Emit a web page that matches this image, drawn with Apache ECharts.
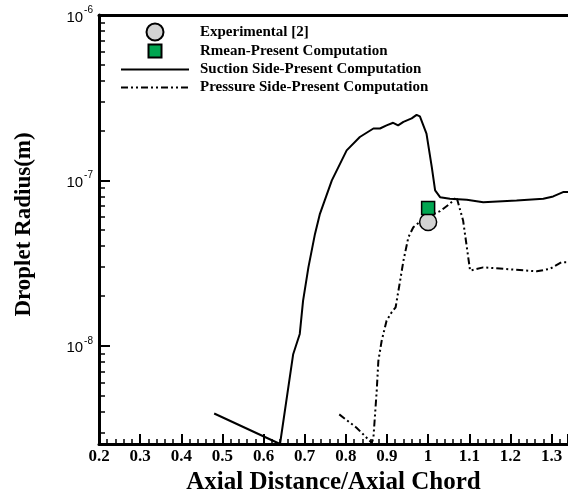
<!DOCTYPE html>
<html>
<head>
<meta charset="utf-8">
<script src="https://cdn.jsdelivr.net/npm/echarts@6/dist/echarts.min.js"></script>
<style>html,body{margin:0;padding:0;background:#fff;}#c{width:568px;height:490px;}</style>
</head>
<body>
<div id="c"></div>
<script>
// ---- data ----
const suctionX = [0.48, 0.64, 0.672, 0.688, 0.696, 0.709, 0.725, 0.737, 0.766, 0.802, 0.834, 0.867, 0.883, 0.899, 0.915, 0.927, 0.940, 0.960, 0.972, 0.980, 0.996, 1.009, 1.017, 1.029, 1.053, 1.094, 1.134, 1.215, 1.280, 1.304, 1.328, 1.340];
const suctionY = [3.9e-9, 2.55e-9, 8.9e-9, 1.18e-8, 1.87e-8, 2.98e-8, 4.75e-8, 6.28e-8, 1.0e-7, 1.52e-7, 1.83e-7, 2.06e-7, 2.06e-7, 2.15e-7, 2.23e-7, 2.15e-7, 2.26e-7, 2.37e-7, 2.49e-7, 2.44e-7, 1.92e-7, 1.2e-7, 8.7e-8, 7.92e-8, 7.74e-8, 7.64e-8, 7.39e-8, 7.56e-8, 7.74e-8, 8.0e-8, 8.5e-8, 8.5e-8];

const pressureX = [0.784, 0.826, 0.863, 0.867, 0.875, 0.879, 0.887, 0.899, 0.911, 0.921, 0.932, 0.940, 0.952, 0.964, 0.984, 1.004, 1.029, 1.053, 1.069, 1.085, 1.102, 1.134, 1.183, 1.264, 1.296, 1.324, 1.340];
const pressureY = [3.85e-9, 3.2e-9, 2.59e-9, 2.78e-9, 5.33e-9, 8.1e-9, 1.07e-8, 1.42e-8, 1.59e-8, 1.71e-8, 2.48e-8, 3.27e-8, 4.53e-8, 5.21e-8, 5.73e-8, 6.14e-8, 6.52e-8, 7.23e-8, 7.93e-8, 5.73e-8, 2.85e-8, 2.98e-8, 2.92e-8, 2.82e-8, 2.92e-8, 3.2e-8, 3.2e-8];

const experimentalX = [1.0];
const experimentalY = [5.6e-8];
const rmeanX = [1.0];
const rmeanY = [6.8e-8];

const seriesNames = ['Experimental [2]', 'Rmean-Present Computation', 'Suction Side-Present Computation', 'Pressure Side-Present Computation'];
const xTitle = 'Axial Distance/Axial Chord';
const yTitle = 'Droplet Radius(m)';
const yMajorTicks = [1e-8, 1e-7, 1e-6];
const yMinorMultipliers = [2, 3, 4, 5, 6, 7, 8, 9];
const yMin = 2.55e-9, yMax = 1e-6;
const xMin = 0.2, xMax = 1.34, xStep = 0.1;

const yMinorTicks = [];
[1e-9, 1e-8, 1e-7].forEach(d => yMinorMultipliers.forEach(m => { const v = m * d; if (v >= yMin && v <= yMax) yMinorTicks.push(v); }));

const zip = (xs, ys) => xs.map((x, i) => [x, ys[i]]);

const serif = 'Liberation Serif';
const sans = 'Liberation Sans';

const chart = echarts.init(document.getElementById('c'));
chart.setOption({
  animation: false,
  backgroundColor: '#fff',
  grid: { left: 99, right: 0, top: 15, bottom: 46, containLabel: false, outerBoundsMode: 'none' },
  legend: {
    orient: 'vertical', left: 120, top: 22.5, padding: 0, itemWidth: 68, itemHeight: 17, itemGap: 0,
    textStyle: { fontFamily: serif, fontWeight: 'bold', fontSize: 15, lineHeight: 18, height: 18, color: '#000', padding: [0, 0, 0, 6] },
    data: [
      { name: seriesNames[0], icon: 'circle' },
      { name: seriesNames[1], icon: 'path://M0,0M17,17M2,2h13v13h-13z' },
      { name: seriesNames[2], itemStyle: { opacity: 0 } },
      { name: seriesNames[3], itemStyle: { opacity: 0 } }
    ]
  },
  xAxis: [{
    type: 'value', min: xMin, max: xMax, interval: xStep, position: 'bottom',
    name: xTitle, nameLocation: 'middle', nameGap: 20,
    nameTextStyle: { fontFamily: serif, fontWeight: 'bold', fontSize: 25, color: '#000' },
    axisLine: { lineStyle: { color: '#000', width: 3 } },
    axisTick: { inside: true, length: 10, lineStyle: { color: '#000', width: 2 } },
    minorTick: { show: true, splitNumber: 5, length: 5, lineStyle: { color: '#000', width: 1.5 } },
    axisLabel: { fontFamily: serif, fontWeight: 'bold', fontSize: 17, color: '#000', margin: 4, showMaxLabel: false,
      formatter: v => { const k = Math.round(v / xStep); return Math.abs(k * xStep - v) < 1e-6 ? String(+v.toFixed(1)) : ''; } },
    splitLine: { show: false }
  }, {
    type: 'value', min: xMin, max: xMax, position: 'top',
    axisLine: { show: true, lineStyle: { color: '#000', width: 3 } },
    axisTick: { show: false }, axisLabel: { show: false }, splitLine: { show: false }
  }],
  yAxis: [{
    type: 'log', logBase: 10, min: yMin, max: yMax, position: 'left',
    name: yTitle, nameLocation: 'middle', nameGap: 63, nameRotate: 90,
    nameTextStyle: { fontFamily: serif, fontWeight: 'bold', fontSize: 23, color: '#000', padding: [0, 0, 0, 10] },
    axisLine: { show: true, lineStyle: { color: '#000', width: 3 } },
    axisTick: { inside: true, length: 11, customValues: yMajorTicks, lineStyle: { color: '#000', width: 2 } },
    axisLabel: {
      customValues: yMajorTicks, margin: 6,
      formatter: v => '{b|10}{s|' + Math.round(Math.log10(v)) + '}',
      rich: {
        b: { fontFamily: sans, fontSize: 15, color: '#000', lineHeight: 20, verticalAlign: 'bottom' },
        s: { fontFamily: sans, fontSize: 10, color: '#000', lineHeight: 20, verticalAlign: 'top', padding: [0, 0, 0, 1] }
      }
    },
    splitLine: { show: false }
  }, {
    type: 'log', logBase: 10, min: yMin, max: yMax, position: 'left',
    axisLine: { show: false },
    axisTick: { show: true, inside: true, length: 6, customValues: yMinorTicks, lineStyle: { color: '#000', width: 1.5 } },
    axisLabel: { show: false }, splitLine: { show: false }
  }],
  series: [{
    name: seriesNames[2], type: 'line', data: zip(suctionX, suctionY), symbol: 'none', z: 3,
    lineStyle: { color: '#000', width: 2 }, itemStyle: { color: '#000' }
  }, {
    name: seriesNames[3], type: 'line', data: zip(pressureX, pressureY), symbol: 'none', z: 3,
    lineStyle: { color: '#000', width: 2, type: [7, 3, 2, 3, 2, 3] }, itemStyle: { color: '#000' }
  }, {
    name: seriesNames[0], type: 'scatter', data: zip(experimentalX, experimentalY), symbol: 'circle', symbolSize: 17, z: 5,
    itemStyle: { color: '#d3d3d3', borderColor: '#000', borderWidth: 1.5, opacity: 1 }
  }, {
    name: seriesNames[1], type: 'scatter', data: zip(rmeanX, rmeanY), symbol: 'rect', symbolSize: 13, z: 6,
    itemStyle: { color: '#00a651', borderColor: '#000', borderWidth: 1.5, opacity: 1 }
  }]
});
</script>
</body>
</html>
